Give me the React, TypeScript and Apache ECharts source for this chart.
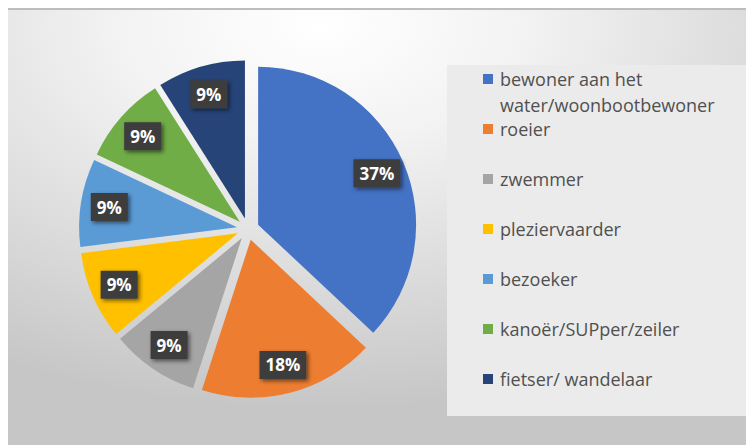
import React, { useEffect, useRef } from "react";
import * as echarts from "echarts";

const categories = [
  "bewoner aan het water/woonbootbewoner",
  "roeier",
  "zwemmer",
  "pleziervaarder",
  "bezoeker",
  "kanoër/SUPper/zeiler",
  "fietser/ wandelaar",
];
const values = [37, 18, 9, 9, 9, 9, 9];
const colors = ["#4472C4", "#ED7D31", "#A5A5A5", "#FFC000", "#5B9BD5", "#70AD47", "#264478"];

export default function App() {
  const ref = useRef<HTMLDivElement>(null);
  useEffect(() => {
    if (!ref.current) return;
    const chart = echarts.init(ref.current, undefined, { renderer: "svg" });
    const center = [242, 221];
    const R = 158;
    const offset = 11;
    const data = categories.map((name, i) => ({
      name,
      value: values[i],
      selected: true,
      itemStyle: { color: colors[i] },
    }));
    const labelData = categories.map((name, i) => ({
      name,
      value: values[i],
      selected: true,
    }));
    chart.setOption({
      animation: false,
      backgroundColor: {
        type: "radial",
        x: 0.42,
        y: 0.04,
        r: 0.88,
        colorStops: [
          { offset: 0, color: "#ffffff" },
          { offset: 0.3, color: "#f3f3f3" },
          { offset: 1, color: "#c6c6c6" },
        ],
      },
      graphic: [
        { type: "rect", z: 0, shape: { x: 0, y: 0, width: 748, height: 2 }, style: { fill: "#bdbdbd" } },
        { type: "rect", z: 1, shape: { x: 441, y: 57, width: 307, height: 351 }, style: { fill: "#ebebeb" } },
        {
          type: "text",
          z: 10,
          x: 494,
          y: 97,
          style: {
            text: "water/woonbootbewoner",
            fill: "#505050",
            fontSize: 18,
            fontFamily: "Open Sans",
            lineHeight: 18,
            verticalAlign: "middle",
          },
        },
      ],
      legend: {
        orient: "vertical",
        left: 477,
        top: 62,
        padding: 0,
        itemWidth: 10,
        itemHeight: 10,
        itemGap: 32,
        icon: "rect",
        data: categories,
        selectedMode: false,
        formatter: (n: string) => (n.startsWith("bewoner") ? "bewoner aan het" : n),
        textStyle: {
          color: "#505050",
          fontSize: 18,
          fontFamily: "Open Sans",
          lineHeight: 18,
          padding: [0, 0, 0, 2],
        },
      },
      series: [
        {
          type: "pie",
          center,
          radius: [0, R],
          startAngle: 90,
          clockwise: true,
          selectedMode: "multiple",
          selectedOffset: offset,
          silent: true,
          label: { show: false },
          labelLine: { show: false },
          emphasis: { disabled: true },
          data,
        },
        {
          type: "pie",
          center,
          radius: [R * 0.6, R],
          startAngle: 90,
          clockwise: true,
          selectedMode: "multiple",
          selectedOffset: offset,
          silent: true,
          itemStyle: { color: "rgba(0,0,0,0)" },
          emphasis: { disabled: true },
          labelLine: { show: false },
          label: {
            show: true,
            position: "inside",
            formatter: "{c}%",
            color: "#ffffff",
            fontWeight: "bold",
            fontSize: 17,
            fontFamily: "Open Sans",
            backgroundColor: "#3d3d3d",
            padding: [6, 6, 5, 6],
            shadowBlur: 4,
            shadowColor: "rgba(0,0,0,0.55)",
            shadowOffsetX: 2,
            shadowOffsetY: 2,
          },
          data: labelData,
        },
      ],
    });
    return () => chart.dispose();
  }, []);
  return <div ref={ref} style={{ width: 748, height: 437, marginLeft: -2 }} />;
}
